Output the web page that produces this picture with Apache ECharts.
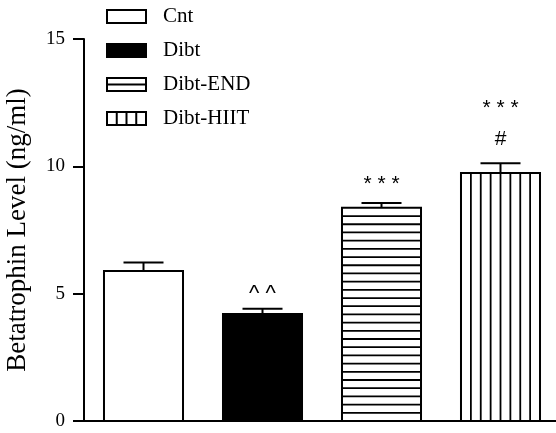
<!DOCTYPE html>
<html>
<head>
<meta charset="utf-8">
<script src="https://cdn.jsdelivr.net/npm/echarts@6/dist/echarts.min.js"></script>
<style>html,body{margin:0;padding:0;background:#fff;}#c{width:556px;height:433px;}</style>
</head>
<body>
<div id="c"></div>
<script>
const categories = ['Cnt', 'Dibt', 'Dibt-END', 'Dibt-HIIT'];
const means = [5.89, 4.20, 8.37, 9.74];
const sems = [0.33, 0.21, 0.19, 0.38];
const sigNear = ['', '^ ^', '* * *', '#'];
const sigFar = ['', '', '', '* * *'];
const yMin = 0, yMax = 15, yStep = 5;
const yTitle = 'Betatrophin Level (ng/ml)';

const SERIF = '"Liberation Serif", "Times New Roman", serif';
const SANS = '"Liberation Sans", Arial, sans-serif';

function svgIcon(kind) {
  let inner = '';
  const fill = kind === 1 ? '#000' : '#fff';
  inner += "<rect x='1' y='1' width='39' height='13' fill='" + fill + "' stroke='#000' stroke-width='2'/>";
  if (kind === 2) inner += "<line x1='1' y1='7.5' x2='40' y2='7.5' stroke='#000' stroke-width='2'/>";
  if (kind === 3) {
    for (let k = 1; k < 4; k++) {
      const x = 1 + k * 39 / 4;
      inner += "<line x1='" + x + "' y1='1' x2='" + x + "' y2='14' stroke='#000' stroke-width='2'/>";
    }
  }
  const svg = "<svg xmlns='http://www.w3.org/2000/svg' width='41' height='15'>" + inner + "</svg>";
  return 'image://data:image/svg+xml;charset=utf-8,' + encodeURIComponent(svg);
}

function renderItem(params, api) {
  const kind = params.seriesIndex;
  const i = api.value(0), v = api.value(1), e = api.value(2);
  const base = api.coord([i, 0]);
  const top = api.coord([i, v]);
  const et = api.coord([i, v + e]);
  const bw = api.size([1, 0])[0] * 0.664;
  const cx = base[0];
  const x0 = cx - bw / 2;
  const h = base[1] - top[1];
  const children = [];
  children.push({
    type: 'rect',
    shape: { x: x0, y: top[1], width: bw, height: h },
    style: { fill: kind === 1 ? '#000' : '#fff', stroke: '#000', lineWidth: 2 }
  });
  if (kind === 2) {
    const n = Math.round(h / 8.2);
    const sp = h / n;
    for (let k = 1; k < n; k++) {
      const y = top[1] + k * sp;
      children.push({ type: 'line', shape: { x1: x0, y1: y, x2: x0 + bw, y2: y }, style: { stroke: '#000', lineWidth: 1.8 } });
    }
  }
  if (kind === 3) {
    const n = 8;
    for (let k = 1; k < n; k++) {
      const x = x0 + k * bw / n;
      children.push({ type: 'line', shape: { x1: x, y1: top[1], x2: x, y2: base[1] }, style: { stroke: '#000', lineWidth: 1.8 } });
    }
  }
  children.push({ type: 'line', shape: { x1: cx, y1: top[1], x2: cx, y2: et[1] }, style: { stroke: '#000', lineWidth: 2 } });
  children.push({ type: 'line', shape: { x1: cx - 20, y1: et[1], x2: cx + 20, y2: et[1] }, style: { stroke: '#000', lineWidth: 2 } });
  const near = sigNear[i];
  if (near) {
    const isHash = near === '#';
    const isCaret = near.indexOf('^') >= 0;
    const off = isHash ? 24 : (isCaret ? 15 : 19);
    children.push({ type: 'text', style: { text: near, x: cx, y: et[1] - off, align: 'center', verticalAlign: 'middle', font: (isCaret ? 22 : 21) + 'px ' + SANS, fill: '#000' } });
  }
  const far = sigFar[i];
  if (far) {
    children.push({ type: 'text', style: { text: far, x: cx, y: et[1] - 55, align: 'center', verticalAlign: 'middle', font: '21px ' + SANS, fill: '#000' } });
  }
  return { type: 'group', children: children };
}

const chart = echarts.init(document.getElementById('c'), null, { renderer: 'canvas' });
chart.setOption({
  animation: false,
  backgroundColor: '#fff',
  grid: { left: 84, top: 39, bottom: 12, width: 476, containLabel: false, outerBoundsMode: 'none' },
  legend: {
    orient: 'vertical',
    left: 101,
    top: 1,
    itemWidth: 41,
    itemHeight: 15,
    itemGap: 13,
    textStyle: { fontFamily: SERIF, fontSize: 21, color: '#000', padding: [0, 0, 0, 11] },
    data: categories.map((c, k) => ({ name: c, icon: svgIcon(k) })),
    selectedMode: false
  },
  xAxis: {
    type: 'category',
    data: categories,
    axisLine: { show: true, lineStyle: { color: '#000', width: 2 } },
    axisTick: { show: false },
    axisLabel: { show: false },
    splitLine: { show: false }
  },
  yAxis: {
    type: 'value',
    min: yMin, max: yMax, interval: yStep,
    name: yTitle,
    nameLocation: 'middle',
    nameRotate: 90,
    nameGap: 53,
    nameMoveOverlap: false,
    nameTextStyle: { fontFamily: SERIF, fontSize: 27, color: '#000' },
    axisLine: { show: true, lineStyle: { color: '#000', width: 2 } },
    axisTick: { show: true, length: 11, lineStyle: { color: '#000', width: 2 } },
    axisLabel: { fontFamily: SERIF, fontSize: 19, color: '#000', margin: 19 },
    splitLine: { show: false }
  },
  series: categories.map((c, k) => ({
    type: 'custom',
    name: c,
    renderItem: renderItem,
    clip: false,
    encode: { x: 0, y: 1 },
    data: [[k, means[k], sems[k]]]
  }))
});
</script>
</body>
</html>
